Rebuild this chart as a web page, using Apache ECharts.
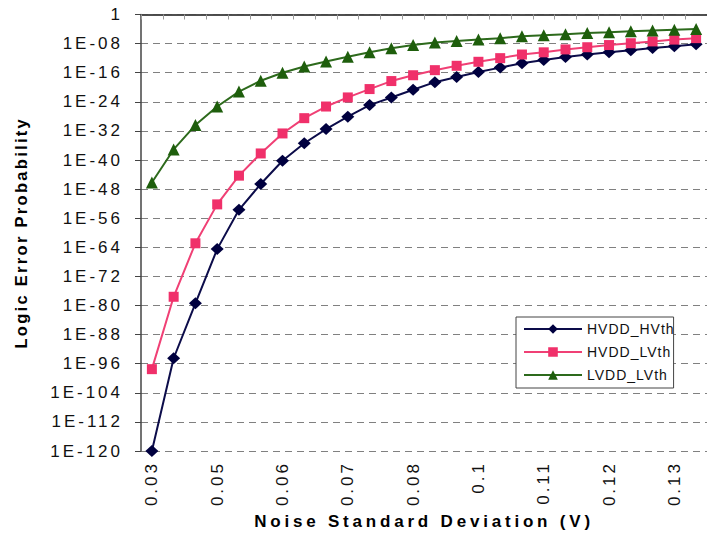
<!DOCTYPE html>
<html>
<head>
<meta charset="utf-8">
<style>
  html, body { margin: 0; padding: 0; background: #fff; }
  #chart { width: 707px; height: 537px; }
  #chart text { letter-spacing: 3px; }
  #chart text[style*="bold"] { letter-spacing: 3.8px; }
  #chart text[style*="16.5px"] { letter-spacing: 2.3px; }
  #chart text[style*="14px"] { letter-spacing: 1px; }
</style>
<script src="https://cdn.jsdelivr.net/npm/echarts@6/dist/echarts.min.js"></script>
</head>
<body>
<div id="chart"></div>
<script>
// Noise standard deviation categories (only every third label is shown)
const categories = ['0.03','0.04','0.04','0.05','0.05','0.05','0.06','0.06','0.07','0.07',
                    '0.07','0.08','0.08','0.09','0.09','0.1','0.1','0.1','0.11','0.11',
                    '0.12','0.12','0.12','0.13','0.13','0.14'];
// log10 of the logic error probability
const hvddHvthLog10 = [-120, -94.5, -79.4, -64.5, -53.7, -46.6, -40.2, -35.4, -31.5, -28.1,
                       -24.9, -22.8, -20.7, -18.6, -17.2, -15.8, -14.6, -13.4, -12.5, -11.7,
                       -11.0, -10.4, -9.8, -9.2, -8.7, -8.2];
const hvddLvthLog10 = [-97.5, -77.6, -62.9, -52.2, -44.3, -38.2, -32.7, -28.5, -25.3, -22.8,
                       -20.5, -18.3, -16.7, -15.3, -14.1, -13.0, -12.0, -11.0, -10.4, -9.6,
                       -9.0, -8.4, -7.9, -7.4, -6.9, -6.5];
const lvddLvthLog10 = [-46.2, -37.1, -30.4, -25.3, -21.2, -18.2, -16.0, -14.3, -12.9, -11.6,
                       -10.4, -9.3, -8.4, -7.7, -7.3, -6.9, -6.5, -6.0, -5.7, -5.4,
                       -5.1, -4.9, -4.6, -4.4, -4.2, -4.0];
const seriesNames = ['HVDD_HVth', 'HVDD_LVth', 'LVDD_LVth'];
// y axis: decades from 1E-120 up to 1, one tick every 8 decades
const yMinExp = -120, yMaxExp = 0, yStepExp = 8;

function yLabel(v) {
  const e = Math.round(v);
  if (e === 0) return '1';
  const n = -e;
  return '1E-' + (n < 10 ? '0' + n : String(n));
}

const chart = echarts.init(document.getElementById('chart'), null, { renderer: 'svg' });
const FONT = 'Liberation Sans, Arial, sans-serif';

chart.setOption({
  animation: false,
  backgroundColor: '#fff',
  textStyle: { fontFamily: FONT },
  grid: { left: 141, top: 14.5, right: -6, bottom: 86 },
  legend: {
    orient: 'vertical',
    left: 516, top: 317,
    itemWidth: 58, itemHeight: 12, itemGap: 9,
    padding: [5, 8, 6, 7],
    borderColor: '#444', borderWidth: 1, backgroundColor: '#fff',
    textStyle: { fontSize: 14, color: '#111', fontFamily: FONT, width: 92 },
    data: seriesNames
  },
  xAxis: [{
    type: 'category', data: categories, boundaryGap: true, position: 'bottom',
    axisLine: { lineStyle: { color: '#8a8a8a', width: 1.5 } },
    axisTick: { show: false },
    axisLabel: { interval: 2, rotate: 90, fontSize: 17, color: '#111', margin: 10, fontFamily: FONT },
    splitLine: { show: false },
    name: 'Noise Standard Deviation (V)', nameLocation: 'middle', nameGap: 62,
    nameTextStyle: { fontWeight: 'bold', fontSize: 17, color: '#000', fontFamily: FONT }
  }, {
    type: 'category', data: categories, boundaryGap: true, position: 'top',
    axisLine: { lineStyle: { color: '#333', width: 1.5 } },
    axisTick: { show: true, inside: true, length: 5, interval: 0, lineStyle: { color: '#999' } },
    axisLabel: { show: false },
    splitLine: { show: false }
  }],
  yAxis: {
    type: 'value', min: yMinExp, max: yMaxExp, interval: yStepExp,
    axisLine: { show: true, lineStyle: { color: '#444', width: 1.5 } },
    axisTick: { show: true, length: 6, lineStyle: { color: '#444' } },
    axisLabel: { fontSize: 17, color: '#111', margin: 18, formatter: yLabel, fontFamily: FONT },
    splitLine: { show: true, lineStyle: { color: '#808080', type: [7, 5], width: 1.2 } },
    name: 'Logic Error Probability', nameLocation: 'middle', nameRotate: 90, nameGap: 112,
    nameTextStyle: { fontWeight: 'bold', fontSize: 16.5, color: '#000', fontFamily: FONT }
  },
  series: [{
    name: seriesNames[0], type: 'line', data: hvddHvthLog10,
    symbol: 'diamond', symbolSize: [13, 12], showAllSymbol: true,
    lineStyle: { color: '#0c0c4a', width: 2 }, itemStyle: { color: '#00003f' }
  }, {
    name: seriesNames[1], type: 'line', data: hvddLvthLog10,
    symbol: 'rect', symbolSize: 10, showAllSymbol: true,
    lineStyle: { color: '#f04075', width: 2 }, itemStyle: { color: '#f0306a' }
  }, {
    name: seriesNames[2], type: 'line', data: lvddLvthLog10,
    symbol: 'triangle', symbolSize: 12, showAllSymbol: true,
    lineStyle: { color: '#2d6a1c', width: 2 }, itemStyle: { color: '#1e5e0c' }
  }]
});
</script>
</body>
</html>
